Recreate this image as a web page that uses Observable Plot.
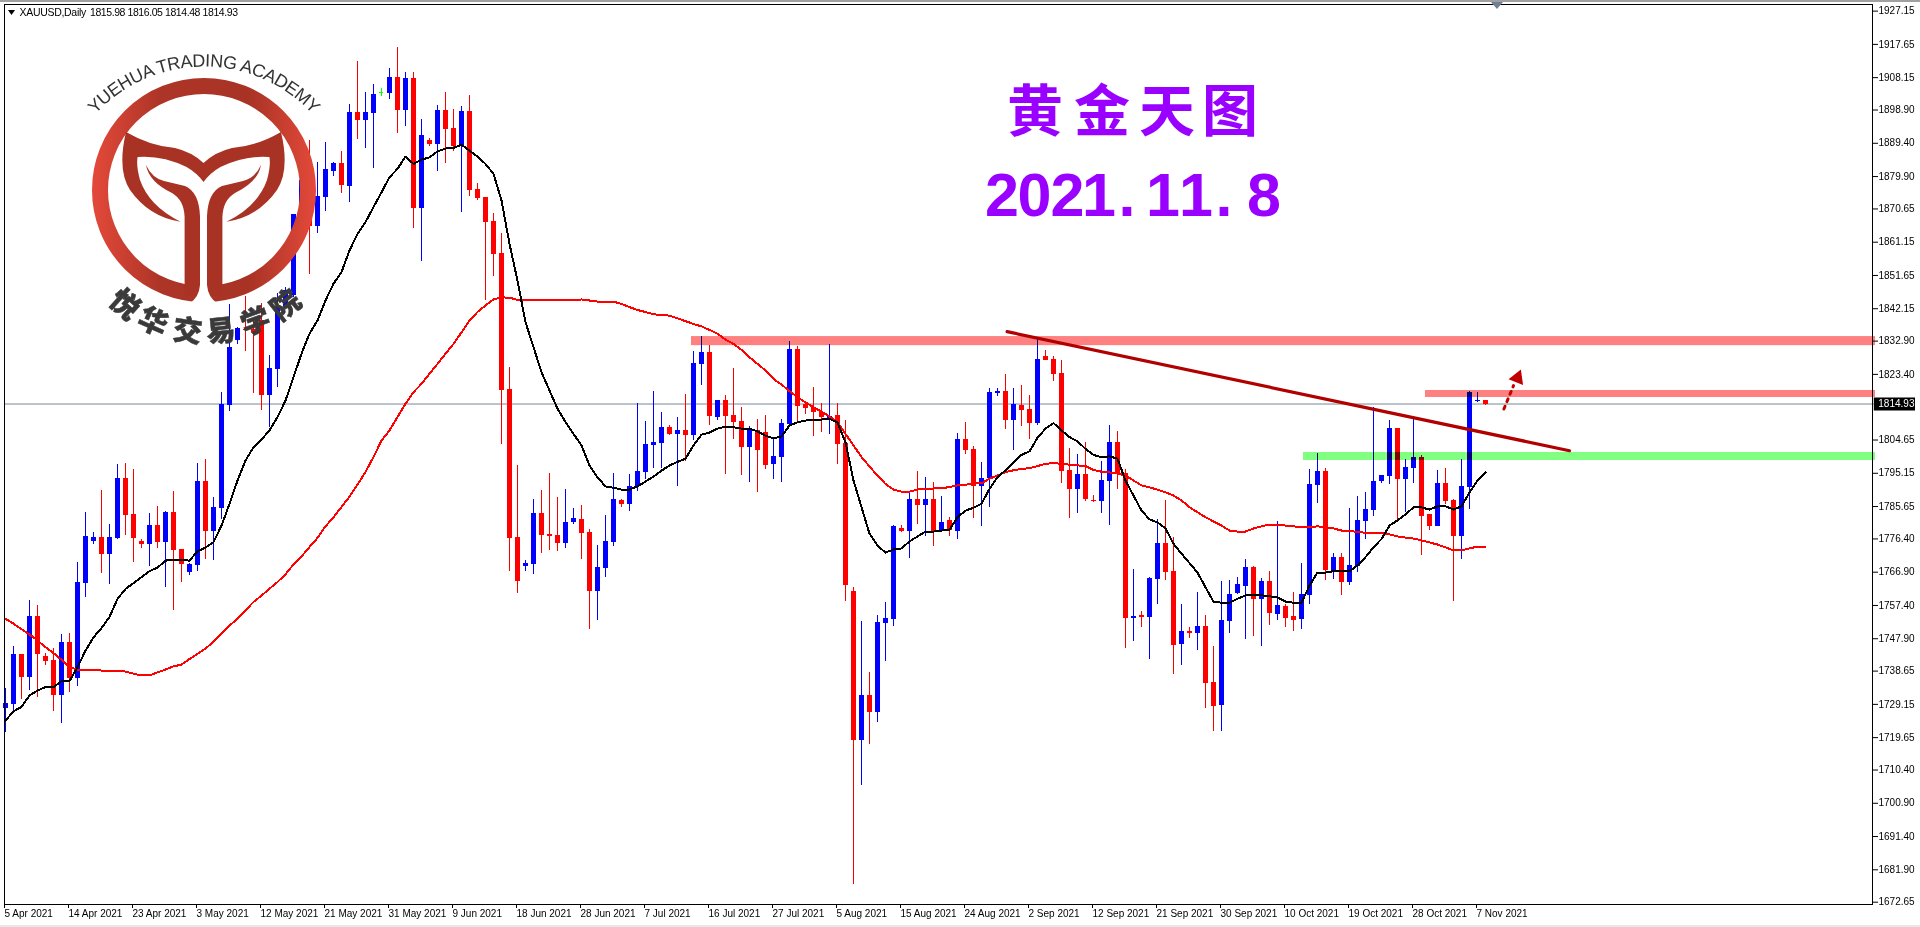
<!DOCTYPE html>
<html lang="zh">
<head>
<meta charset="utf-8">
<title>XAUUSD Daily</title>
<script src="https://cdn.jsdelivr.net/npm/d3@7"></script>
<script src="https://cdn.jsdelivr.net/npm/@observablehq/plot@0.6"></script>
<style>
html,body{margin:0;padding:0;background:#fff;overflow:hidden;width:1920px;height:927px}
#chart{position:absolute;left:0;top:0}
#chart svg{display:block}
#over{position:absolute;left:0;top:0;pointer-events:none}
.edge{position:absolute;left:0;width:1920px}
</style>
</head>
<body>
<div id="chart"></div>
<svg id="over" width="1920" height="927" viewBox="0 0 1920 927">
  <defs>
    <linearGradient id="lg" gradientUnits="userSpaceOnUse" x1="92" y1="0" x2="316" y2="0">
      <stop offset="0" stop-color="#e4493a"/><stop offset=".3" stop-color="#ad3527"/>
      <stop offset=".7" stop-color="#a83325"/><stop offset="1" stop-color="#e4493a"/>
    </linearGradient>
    <path id="arc" d="M 84 128 A 148 148 0 0 1 324 128"/>
  </defs>
  <polygon points="8,10 15,10 11.5,15" fill="#000"/>
  <polygon points="1491,2 1503,2 1497,9" fill="#6e7f96"/>
  <text x="19.5" y="16" font-family="Liberation Sans" font-size="10.5" letter-spacing="-.3" fill="#000">XAUUSD,Daily</text>
  <text x="90" y="16" font-family="Liberation Sans" font-size="10.5" letter-spacing="-.42" fill="#000">1815.98 1816.05 1814.48 1814.93</text>

  <g>
    <circle cx="204" cy="190" r="104" fill="none" stroke="url(#lg)" stroke-width="16"/>
    <path fill="#a83325" d="M126 132 Q150 146 175 148 Q192 152 203.5 163 Q215 152 232 148 Q257 146 281 132 Q290 170 277 190 Q258 217 226.5 221.7 Q258 206 267 180 Q271 165 269.4 157 Q245 155 220.4 167 Q210 173 203.5 182 Q197 173 186.6 167 Q162 155 137.6 157 Q136 165 140 180 Q149 206 180.5 221.7 Q149 217 130 190 Q117 170 126 132 Z"/>
    <path fill="#a83325" d="M261 165 Q255 178 243 181 L222 186 Q208 192 207 216 L207 296 L222.4 296 L222.4 217 Q223 200 235 193 Q258 182 261 165 Z"/>
    <path fill="#a83325" d="M146 165 Q152 178 164 181 L185 186 Q199 192 200 216 L200 296 L184.6 296 L184.6 217 Q184 200 172 193 Q149 182 146 165 Z"/>
    <path fill="#fff" d="M200 216 L200 285 Q199 297 190 303 L217 303 Q208 297 207 285 L207 216 Z"/>
    <text font-family="Liberation Sans" font-size="18" fill="#333"><textPath href="#arc" startOffset="50%" text-anchor="middle" textLength="244">YUEHUA TRADING ACADEMY</textPath></text>
    <g font-family="Noto Sans CJK SC" font-weight="900" font-size="29" fill="#3a3a3a" stroke="#3a3a3a" stroke-width=".5" text-anchor="middle">
      <text transform="translate(118,312) rotate(42)">悦</text>
      <text transform="translate(149,331) rotate(24)">华</text>
      <text transform="translate(186,341) rotate(8)">交</text>
      <text transform="translate(222,341) rotate(-6)">易</text>
      <text transform="translate(259,331) rotate(-20)">学</text>
      <text transform="translate(292,313) rotate(-38)">院</text>
    </g>
  </g>

  <g fill="#9900ff">
    <g font-family="Noto Sans CJK SC" font-weight="700" font-size="56" text-anchor="middle">
      <text x="1035" y="131">黄</text><text x="1102" y="131">金</text><text x="1167" y="131">天</text><text x="1230" y="131">图</text>
    </g>
    <g font-family="Liberation Sans" font-weight="700" font-size="61" text-anchor="middle">
      <text x="1002" y="216">2</text><text x="1034.5" y="216">0</text><text x="1067.5" y="216">2</text><text x="1099" y="216">1</text><text x="1127" y="216">.</text><text x="1163" y="216">1</text><text x="1196" y="216">1</text><text x="1224" y="216">.</text><text x="1264" y="216">8</text>
    </g>
  </g>
</svg>
<script>
const opens=[1727.9,1729.1,1743.4,1736.8,1754.2,1742.8,1741.7,1731.7,1746.8,1736.5,
1763.7,1775.7,1776.8,1772.0,1776.5,1793.7,1783.4,1775.7,1774.8,1780.2,
1775.4,1783.9,1773.4,1766.8,1768.8,1792.8,1778.5,1785.1,1814.5,1833.1,
1836.3,1836.2,1838.8,1817.4,1824.8,1842.8,1845.9,1869.1,1878.8,1865.6,
1873.9,1881.3,1883.6,1877.1,1898.2,1895.9,1897.9,1903.9,1903.6,1908.2,
1898.8,1907.9,1870.8,1890.2,1889.1,1898.8,1893.6,1888.8,1898.5,1876.2,
1873.9,1867.1,1857.9,1819.1,1776.8,1768.5,1769.1,1783.7,1777.7,1777.4,
1775.1,1781.1,1781.9,1778.2,1761.4,1768.0,1775.4,1787.4,1786.2,1791.4,
1795.4,1803.1,1803.7,1808.2,1806.2,1807.4,1805.9,1826.2,1829.6,1811.1,
1815.9,1811.7,1809.9,1802.5,1807.4,1806.8,1797.7,1799.7,1809.1,1830.5,
1814.8,1813.9,1812.5,1810.8,1811.7,1803.7,1761.4,1718.8,1731.7,1726.8,
1752.2,1753.4,1779.4,1778.5,1787.7,1786.0,1787.7,1778.5,1781.7,1778.5,
1804.8,1801.9,1791.4,1793.7,1817.9,1818.5,1810.2,1814.5,1813.4,1809.4,
1828.5,1827.7,1823.7,1796.0,1790.5,1794.8,1787.4,1787.1,1792.8,1803.9,
1795.1,1753.7,1754.5,1754.0,1764.8,1775.1,1767.1,1746.3,1749.9,1749.4,
1751.4,1735.4,1728.8,1752.8,1760.8,1762.8,1768.2,1759.1,1764.2,1754.8,
1757.1,1754.3,1753.4,1760.2,1791.7,1795.7,1767.1,1771.1,1764.0,1768.5,
1781.4,1784.5,1792.8,1794.2,1807.9,1793.4,1796.5,1799.7,1783.4,1780.0,
1792.2,1787.4,1777.1,1791.1,1815.6,1815.98];
const highs=[1733.6,1745.7,1743.4,1758.8,1757.4,1743.6,1745.0,1749.1,1749.4,1769.7,
1784.0,1778.2,1790.2,1780.5,1797.7,1798.0,1796.2,1776.2,1783.7,1785.7,
1784.2,1790.0,1773.4,1769.4,1798.0,1799.1,1788.2,1818.2,1843.4,1836.9,
1845.6,1838.8,1843.5,1828.8,1846.4,1848.3,1869.2,1880.7,1890.2,1883.9,
1889.6,1883.9,1887.0,1900.5,1912.8,1903.9,1906.2,1905.0,1910.8,1916.8,
1909.6,1909.6,1896.2,1890.8,1900.2,1903.9,1899.0,1899.9,1903.0,1877.9,
1873.9,1869.3,1863.6,1825.3,1797.4,1770.2,1787.7,1790.2,1795.1,1788.2,
1790.5,1785.1,1786.0,1779.1,1774.5,1783.1,1795.1,1787.7,1794.8,1815.1,
1809.9,1818.5,1812.5,1808.8,1811.1,1817.7,1829.9,1834.2,1831.6,1815.9,
1817.4,1825.1,1813.9,1808.5,1810.5,1811.7,1805.4,1810.5,1832.8,1831.4,
1815.7,1819.7,1815.1,1831.9,1815.1,1810.2,1762.5,1752.8,1738.3,1754.5,
1758.2,1780.2,1780.2,1789.4,1795.7,1793.9,1792.5,1788.5,1782.5,1806.5,
1809.7,1802.8,1798.2,1819.4,1819.4,1823.4,1819.4,1820.2,1817.4,1833.4,
1830.2,1828.5,1827.4,1802.2,1800.5,1803.9,1788.8,1798.5,1808.8,1807.1,
1796.2,1767.7,1755.7,1765.4,1782.0,1787.4,1776.8,1757.7,1751.1,1761.1,
1754.5,1745.7,1764.3,1764.5,1765.4,1770.5,1768.5,1765.1,1767.1,1781.4,
1757.7,1761.1,1769.4,1796.2,1800.8,1796.5,1772.2,1772.2,1785.1,1788.5,
1789.7,1813.9,1794.5,1810.2,1807.9,1799.1,1810.8,1800.2,1783.4,1796.0,
1796.5,1787.7,1799.1,1818.5,1818.2,1816.05];
const lows=[1721.2,1727.4,1730.5,1733.1,1731.2,1740.3,1727.2,1723.7,1732.5,1734.3,
1759.7,1774.8,1766.5,1763.4,1776.2,1777.4,1769.7,1773.7,1768.5,1773.7,
1762.5,1756.0,1764.0,1766.0,1767.1,1770.5,1770.2,1782.0,1812.8,1831.9,
1829.9,1817.8,1813.1,1808.3,1819.6,1842.1,1845.4,1867.3,1851.9,1863.6,
1869.9,1879.9,1875.1,1872.5,1890.5,1887.9,1882.2,1902.8,1901.9,1892.2,
1894.2,1865.1,1855.6,1888.5,1881.3,1883.6,1887.0,1869.6,1874.2,1873.1,
1844.5,1851.4,1803.4,1767.1,1760.8,1767.1,1766.2,1772.2,1773.1,1772.8,
1773.7,1780.5,1770.5,1750.5,1753.1,1765.4,1774.2,1785.4,1784.2,1790.0,
1793.4,1796.5,1796.4,1805.9,1791.4,1798.5,1804.5,1820.2,1808.8,1810.2,
1794.8,1804.8,1794.5,1792.5,1789.7,1796.2,1793.4,1792.5,1808.8,1809.9,
1811.9,1805.7,1806.8,1806.2,1797.7,1758.5,1677.7,1706.0,1717.7,1724.0,
1741.4,1751.4,1778.2,1770.8,1780.5,1777.1,1774.2,1778.5,1777.1,1776.2,
1800.5,1782.2,1780.0,1785.4,1817.1,1807.7,1801.7,1808.5,1804.8,1808.8,
1827.4,1821.4,1792.2,1782.2,1783.7,1787.1,1786.8,1783.7,1780.2,1790.5,
1745.1,1747.1,1751.1,1742.0,1757.7,1764.5,1737.7,1740.3,1748.0,1744.5,
1728.0,1721.4,1721.4,1749.4,1760.5,1747.7,1748.5,1745.7,1751.7,1753.1,
1751.1,1750.0,1750.5,1757.7,1786.5,1764.5,1764.8,1760.2,1763.1,1766.8,
1776.2,1782.8,1792.2,1792.0,1781.7,1783.9,1792.2,1771.7,1778.8,1780.0,
1786.2,1758.5,1770.5,1784.8,1815.4,1814.48];
const closes=[1729.3,1743.4,1736.9,1754.2,1743.5,1741.4,1731.7,1746.8,1736.5,1764.0,
1777.1,1776.8,1772.0,1776.8,1793.7,1783.1,1776.5,1774.8,1780.2,1775.4,
1783.9,1773.1,1769.1,1769.1,1792.8,1778.5,1785.4,1814.8,1831.1,1836.4,
1835.9,1835.4,1817.4,1825.1,1842.8,1847.3,1869.1,1878.8,1865.7,1874.2,
1881.9,1883.6,1877.3,1898.2,1895.9,1898.2,1903.3,1903.9,1908.2,1898.8,
1907.9,1870.8,1891.6,1889.1,1898.8,1893.3,1888.5,1898.5,1875.9,1873.6,
1866.8,1857.6,1818.8,1776.5,1764.2,1769.4,1783.7,1777.4,1777.1,1775.1,
1781.1,1782.2,1777.9,1761.4,1768.2,1775.7,1787.7,1786.2,1791.4,1795.7,
1803.4,1803.9,1808.2,1806.2,1807.4,1805.9,1826.5,1829.6,1811.4,1815.9,
1811.4,1809.7,1802.5,1807.4,1801.7,1797.4,1799.9,1809.4,1830.5,1814.2,
1813.7,1812.5,1811.1,1811.4,1803.4,1763.1,1718.8,1731.7,1726.8,1752.5,
1753.7,1779.9,1778.5,1787.7,1786.0,1787.7,1778.5,1781.1,1778.8,1804.8,
1801.7,1791.4,1793.7,1818.2,1818.5,1810.2,1814.8,1813.1,1809.4,1827.7,
1827.4,1823.4,1795.7,1790.5,1794.8,1787.7,1787.1,1793.1,1803.9,1794.8,
1753.7,1754.2,1754.0,1765.1,1775.1,1766.8,1746.0,1750.0,1749.5,1751.4,
1735.1,1728.5,1753.1,1760.5,1763.4,1768.2,1759.1,1764.2,1755.1,1757.4,
1753.7,1753.1,1760.5,1791.9,1795.7,1767.4,1771.1,1764.0,1768.8,1781.7,
1784.8,1792.8,1794.5,1807.9,1793.4,1796.8,1799.7,1782.8,1780.0,1792.2,
1787.1,1777.1,1791.4,1818.2,1815.9,1814.93];
const maFast=[1724.5,1727.2,1728.4,1731.7,1733.1,1734.1,1734.1,1735.8,1735.8,1739.8,
1744.5,1748.3,1750.9,1754.1,1759.3,1762.1,1763.8,1765.5,1767.2,1768.2,
1770.2,1770.5,1770.4,1770.2,1772.9,1773.9,1775.5,1780.2,1786.4,1793.1,
1798.8,1802.6,1804.8,1807.4,1811.2,1815.9,1822.6,1829.3,1835.0,1838.8,
1844.5,1849.3,1852.6,1858.8,1863.5,1866.9,1871.2,1875.4,1879.7,1882.1,
1885.6,1883.5,1884.7,1885.4,1887.1,1887.9,1888.1,1889.0,1887.3,1885.6,
1883.5,1880.7,1873.1,1860.7,1850.2,1838.3,1831.2,1824.0,1818.8,1813.6,
1809.8,1806.4,1803.1,1797.4,1794.0,1791.4,1791.0,1790.5,1790.5,1791.4,
1792.8,1794.2,1795.9,1797.4,1798.4,1799.3,1803.1,1806.2,1806.8,1807.9,
1808.5,1808.3,1807.9,1807.9,1807.1,1805.9,1805.1,1805.7,1808.8,1809.7,
1810.2,1810.5,1810.5,1810.7,1809.7,1804.0,1793.1,1785.5,1777.9,1774.5,
1772.5,1773.4,1773.7,1775.7,1777.1,1778.5,1778.5,1778.8,1779.0,1782.6,
1784.5,1785.3,1786.4,1790.7,1794.0,1796.0,1798.3,1800.4,1801.4,1805.3,
1807.9,1809.5,1807.4,1805.5,1804.3,1802.1,1800.4,1799.7,1800.0,1799.3,
1793.1,1788.8,1784.5,1782.0,1781.1,1779.4,1775.0,1772.2,1769.5,1766.8,
1762.6,1758.5,1758.2,1758.2,1759.3,1760.3,1760.3,1760.3,1760.0,1759.7,
1758.5,1758.2,1758.2,1763.1,1766.8,1766.8,1767.2,1767.2,1767.2,1768.8,
1771.2,1774.0,1776.4,1780.2,1781.7,1783.4,1785.4,1785.4,1784.8,1785.7,
1785.7,1784.8,1785.7,1789.7,1793.1,1795.4];
const maSlow=[1753.6,1752.2,1750.6,1749.1,1747.4,1745.5,1743.8,1741.9,1739.8,1739.1,
1739.1,1739.1,1738.8,1738.8,1738.8,1738.5,1737.9,1737.4,1737.4,1738.3,
1739.1,1740.0,1740.5,1742.1,1743.6,1745.1,1747.0,1749.5,1751.6,1753.7,
1756.0,1758.4,1760.2,1762.2,1764.1,1766.3,1769.1,1771.4,1774.1,1776.7,
1780.0,1782.6,1785.5,1788.5,1791.9,1795.5,1799.8,1804.5,1807.4,1811.2,
1815.0,1818.3,1820.7,1823.6,1826.4,1829.3,1832.1,1835.4,1838.8,1841.2,
1843.1,1844.8,1845.4,1845.3,1844.7,1844.5,1844.5,1844.5,1844.5,1844.5,
1844.5,1844.5,1844.8,1844.5,1844.2,1844.2,1844.2,1843.5,1842.6,1841.8,
1841.2,1840.6,1840.3,1840.2,1839.4,1838.6,1837.8,1837.1,1836.1,1835.0,
1833.3,1832.1,1830.4,1828.3,1826.4,1824.5,1822.1,1820.5,1818.6,1816.9,
1815.4,1814.0,1812.8,1811.4,1809.7,1806.4,1803.1,1799.8,1797.1,1794.5,
1792.1,1790.5,1789.9,1789.9,1790.5,1790.8,1790.8,1790.9,1791.2,1791.7,
1791.9,1792.2,1792.3,1793.6,1794.5,1795.5,1796.0,1796.4,1796.6,1797.2,
1797.9,1798.0,1797.9,1797.6,1797.4,1797.2,1796.1,1795.6,1795.4,1795.1,
1794.5,1793.1,1791.7,1791.1,1790.5,1789.7,1788.8,1787.4,1785.5,1784.0,
1782.6,1781.4,1780.2,1778.8,1778.5,1778.5,1779.4,1780.0,1780.5,1780.5,
1780.2,1780.0,1779.7,1779.7,1780.0,1779.7,1779.4,1778.8,1778.8,1778.3,
1778.2,1778.2,1778.2,1777.7,1777.1,1776.8,1776.5,1776.0,1775.4,1774.8,
1774.0,1773.1,1773.1,1773.7,1774.2,1774.2];
const dateLabels=["5 Apr 2021","14 Apr 2021","23 Apr 2021","3 May 2021","12 May 2021","21 May 2021","31 May 2021","9 Jun 2021","18 Jun 2021","28 Jun 2021","7 Jul 2021","16 Jul 2021","27 Jul 2021","5 Aug 2021","15 Aug 2021","24 Aug 2021","2 Sep 2021","12 Sep 2021","21 Sep 2021","30 Sep 2021","10 Oct 2021","19 Oct 2021","28 Oct 2021","7 Nov 2021"];
const priceTicks=[1927.15,1917.65,1908.15,1898.90,1889.40,1879.90,1870.65,1861.15,1851.65,1842.15,1832.90,1823.40,1804.65,1795.15,1785.65,1776.40,1766.90,1757.40,1747.90,1738.65,1729.15,1719.65,1710.40,1700.90,1691.40,1681.90,1672.65];
const lastPrice=1814.93;
const bands=[
 {x1:85.75,x2:233.75,y1:1831.6,y2:1834.2,fill:"#ff8080"},
 {x1:177.5,x2:233.75,y1:1816.8,y2:1818.8,fill:"#ff8080"},
 {x1:162.25,x2:233.75,y1:1798.8,y2:1801.1,fill:"#80ff80"}
];
const trend=[{i:125.2,p:1835.6},{i:195.5,p:1801.6}];
const arrowPath=[{i:187.3,p:1813.5},{i:188.5,p:1820.2}];
const arrowHead=[{i:189,p:1822.4}];

const candles=opens.map((o,i)=>({i,o,h:highs[i],l:lows[i],c:closes[i],
  col:closes[i]>o?"#0000ff":closes[i]<o?"#ff0000":"#00ff00"}));
const axisIdx=dateLabels.map((_,k)=>k*8);

const chart=Plot.plot({
  width:1920,height:927,marginLeft:4,marginRight:48,marginTop:4,marginBottom:23,
  style:{background:"#fff",overflow:"visible",fontFamily:"Liberation Sans"},
  x:{type:"linear",domain:[-0.125,233.375],axis:null},
  y:{type:"linear",domain:[1671.99,1929.04],axis:null},
  color:{type:"identity"},
  marks:[
    Plot.ruleY([lastPrice],{stroke:"#778899",strokeWidth:1,x1:-0.125,x2:233.6}),
    Plot.ruleX(candles,{x:"i",y1:"l",y2:"h",stroke:"col",strokeWidth:1,shapeRendering:"crispEdges"}),
    Plot.ruleX(candles,{x:"i",y1:"o",y2:"c",stroke:"col",strokeWidth:5,shapeRendering:"crispEdges"}),
    Plot.ruleY(candles.filter(d=>d.o===d.c),{x1:d=>d.i-.3,x2:d=>d.i+.3,y:"o",stroke:"col",strokeWidth:1,shapeRendering:"crispEdges"}),
    Plot.line(maSlow,{x:(d,i)=>i,y:d=>d,stroke:"#ff0000",strokeWidth:2,curve:"linear",shapeRendering:"crispEdges"}),
    Plot.line(maFast,{x:(d,i)=>i,y:d=>d,stroke:"#000000",strokeWidth:2,curve:"linear",shapeRendering:"crispEdges"}),
    Plot.rect(bands,{x1:"x1",x2:"x2",y1:"y1",y2:"y2",fill:"fill",mixBlendMode:"multiply"}),
    Plot.line(trend,{x:"i",y:"p",stroke:"#b00000",strokeWidth:3.2}),
    Plot.line(arrowPath,{x:"i",y:"p",stroke:"#c00000",strokeWidth:3,strokeDasharray:"3,5"}),
    Plot.dot(arrowHead,{x:"i",y:"p",symbol:"triangle",r:5.8,rotate:22,fill:"#c00000",stroke:"none"}),
    Plot.frame({stroke:"#000",strokeWidth:1}),
    Plot.axisY({anchor:"right",ticks:priceTicks,tickSize:5,tickPadding:1,tickFormat:d=>d.toFixed(2),fontSize:10,label:null,letterSpacing:"-0.6px"}),
    Plot.axisX({anchor:"bottom",ticks:axisIdx,tickSize:4,tickPadding:1,textAnchor:"start",tickFormat:d=>dateLabels[d/8],fontSize:10,label:null,dx:-1,letterSpacing:"-0.1px"}),
    Plot.ruleY([lastPrice],{x1:233.6,x2:238.75,stroke:"#000",strokeWidth:13}),
    Plot.text([lastPrice],{x:234.1,y:d=>d,text:d=>d.toFixed(2),fill:"#fff",textAnchor:"start",fontSize:10,letterSpacing:"-0.5px"})
  ]
});
document.getElementById("chart").appendChild(chart);
const top1=document.createElement("div");top1.className="edge";top1.style.cssText+="top:0;height:2px;background:#a0a0a0";document.body.appendChild(top1);
const bot1=document.createElement("div");bot1.className="edge";bot1.style.cssText+="top:925px;height:2px;background:#e8e8e8";document.body.appendChild(bot1);
</script>
</body>
</html>
